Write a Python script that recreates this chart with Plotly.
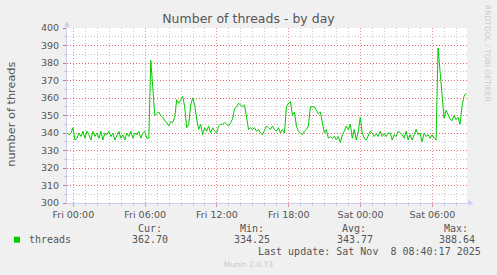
import plotly.graph_objects as go
from datetime import datetime, timedelta

# ---------------- data ----------------
series_name = "threads"
start_time = "2025-11-06 23:28:20"
step_minutes = 10
threads = [
    340, 339, 340, 343, 336, 337, 340, 338, 341, 337,
    341, 339, 336, 341, 338, 340, 337, 341, 336, 340,
    339, 341, 338, 340, 336, 339, 341, 337, 339, 336,
    340, 338, 341, 337, 340, 339, 341, 337, 340, 341,
    337, 337, 381.5, 366, 350, 351, 352, 350, 349, 347,
    346, 344, 346.5, 346, 349, 359, 357, 359, 361, 355,
    343, 345, 356, 360, 356, 348, 342, 345, 339, 343,
    341, 344, 340, 343, 341, 340, 344, 345, 345, 346,
    345, 344, 346, 348, 354, 355, 357, 356, 355, 356,
    350, 342, 343, 342, 343, 341, 342, 340, 339, 342,
    344, 343, 342, 344, 342, 341, 343, 340, 342, 340,
    355, 357, 358, 350, 352, 344, 341, 340, 339, 341,
    342, 344, 355, 355, 355, 353, 351, 352, 346, 340,
    342, 337, 338, 337, 338, 336, 338, 334.5, 339, 341,
    344, 342, 345, 337, 342, 336, 341, 349, 340, 337,
    336, 339, 341, 340, 338, 339.6, 338, 341, 338, 339.6,
    338, 340, 340, 336, 339, 338, 341, 340, 339, 337,
    341, 336, 339, 336, 339, 342, 339, 340, 335, 340,
    338, 339, 337, 339, 337, 336, 388.6, 375, 359, 348.5,
    353, 350.5, 348, 347, 350, 347.6, 349, 345, 355, 361,
    362.7,
]
title_text = "Number of threads - by day"
y_title = "number of threads"
y_min, y_max, y_step = 300, 400, 10
stat_labels = ["Cur:", "Min:", "Avg:", "Max:"]
stat_values = [362.70, 334.25, 343.77, 388.64]
last_update = "Last update: Sat Nov \u00a08 08:40:17 2025"
version_text = "Munin 2.0.73"
watermark = "RRDTOOL / TOBI OETIKER"

t0 = datetime.fromisoformat(start_time)
times = [t0 + timedelta(minutes=step_minutes * i) for i in range(len(threads))]
x_start = t0
x_end = t0 + timedelta(minutes=step_minutes * (len(threads) - 1))
y_major = list(range(y_min, y_max + 1, y_step))
y_minor = [v + y_step / 2 for v in y_major[:-1]]

# ---------------- geometry / styles ----------------
W, H = 497, 275
L, R, T, B = 67, 30, 28, 72
PW, PH = W - L - R, H - T - B
BOTTOM = H - B


def px(x):
    return (x - L) / PW


def py(y):
    return (BOTTOM - y) / PH


SANS = "DejaVu Sans"
MONO = "DejaVu Sans Mono"
TXT = "#555555"
MAJOR_X = "rgb(225,145,145)"
MAJOR_Y = "rgb(232,105,105)"
MINOR = "rgb(200,200,200)"
AXIS = "#C8CEF4"
GREEN = "#00CC00"
DOTS = "1px,2px"

fig = go.Figure()
fig.add_trace(go.Scatter(
    x=times, y=threads, mode="lines", name=series_name,
    line=dict(color=GREEN, width=1), hoverinfo="skip", showlegend=False,
))

fig.update_layout(
    width=W, height=H,
    margin=dict(l=L, r=R, t=T, b=B, pad=0),
    paper_bgcolor="#F0F0F0",
    plot_bgcolor="#FFFFFF",
    showlegend=False,
    font=dict(family=SANS, size=9.5, color=TXT),
    title=dict(text=title_text, x=0.5, xref="container", xanchor="center",
               y=1 - 19 / H, yref="container", yanchor="middle",
               font=dict(family=SANS, size=12.5, color=TXT)),
    xaxis=dict(
        range=[x_start, x_end + timedelta(minutes=5)],
        type="date",
        tick0="2025-11-07 00:00", dtick=6 * 3600 * 1000,
        tickformat="%a %H:%M",
        showgrid=True, gridcolor=MAJOR_X, griddash=DOTS, gridwidth=1,
        ticks="outside", ticklen=3, tickcolor=MAJOR_X, tickwidth=1,
        minor=dict(dtick=3600 * 1000, showgrid=True, gridcolor=MINOR,
                   griddash=DOTS, gridwidth=1, ticks="outside",
                   ticklen=2, tickcolor=MINOR),
        showline=True, linecolor=AXIS, linewidth=1,
        zeroline=False, fixedrange=True,
        tickfont=dict(family=SANS, size=9.5, color=TXT),
    ),
    yaxis=dict(
        range=[y_min, y_max],
        tickmode="array", tickvals=y_major,
        showgrid=True, gridcolor=MAJOR_Y, griddash=DOTS, gridwidth=1,
        ticks="outside", ticklen=3, tickcolor=MAJOR_Y, tickwidth=1,
        minor=dict(tickmode="array", tickvals=y_minor, showgrid=True,
                   gridcolor=MINOR, griddash=DOTS, gridwidth=1,
                   ticks="outside", ticklen=2, tickcolor=MINOR),
        showline=True, linecolor=AXIS, linewidth=1,
        zeroline=False, fixedrange=True,
        tickfont=dict(family=SANS, size=9.5, color=TXT),
        ticklabelstandoff=2,
    ),
)

ann = []
ann.append(dict(text=y_title, x=px(11.5), y=py(114.2), xref="paper", yref="paper",
                xanchor="center", yanchor="middle", textangle=-90, showarrow=False,
                font=dict(family=SANS, size=11.3, color=TXT)))
ann.append(dict(text=series_name, x=px(26.5), y=py(239.3), xref="paper", yref="paper",
                xanchor="left", yanchor="middle", showarrow=False,
                font=dict(family=MONO, size=10, color=TXT)))
for k, (lab, val) in enumerate(zip(stat_labels, stat_values)):
    ann.append(dict(text=lab, x=px(163.5 + 102.3 * k), y=py(228.3), xref="paper",
                    yref="paper", xanchor="right", yanchor="middle", showarrow=False,
                    font=dict(family=MONO, size=10, color=TXT)))
    ann.append(dict(text=f"{val:.2f}", x=px(170 + 102.3 * k), y=py(239.3), xref="paper",
                    yref="paper", xanchor="right", yanchor="middle", showarrow=False,
                    font=dict(family=MONO, size=10, color=TXT)))
ann.append(dict(text=last_update, x=px(482.7), y=py(251), xref="paper", yref="paper",
                xanchor="right", yanchor="middle", showarrow=False,
                font=dict(family=MONO, size=10, color=TXT)))
ann.append(dict(text=version_text, x=px(248), y=py(264.3), xref="paper", yref="paper",
                xanchor="center", yanchor="middle", showarrow=False,
                font=dict(family=SANS, size=7.5, color="#C8C8C8")))
ann.append(dict(text=watermark, x=px(487.5), y=py(53.5), xref="paper", yref="paper",
                xanchor="center", yanchor="middle", textangle=90, showarrow=False,
                font=dict(family=SANS, size=7.5, color="#CCCCCC")))
fig.update_layout(annotations=ann)

shapes = []
# legend colour swatch
shapes.append(dict(type="rect", xref="paper", yref="paper",
                   x0=px(14), x1=px(20), y0=py(242.7), y1=py(236.7),
                   fillcolor=GREEN, line=dict(width=0)))
# axis arrow heads and short extensions
shapes.append(dict(type="line", xref="paper", yref="paper", x0=0, x1=0,
                   y0=1, y1=py(25), line=dict(color=AXIS, width=1)))
shapes.append(dict(type="path", xref="paper", yref="paper",
                   path=f"M {px(67)} {py(21.5)} L {px(64)} {py(26.5)} L {px(70)} {py(26.5)} Z",
                   fillcolor=AXIS, line=dict(width=0)))
shapes.append(dict(type="line", xref="paper", yref="paper", x0=1, x1=px(470),
                   y0=0, y1=0, line=dict(color=AXIS, width=1)))
shapes.append(dict(type="path", xref="paper", yref="paper",
                   path=f"M {px(473.5)} {py(203)} L {px(468.5)} {py(200)} L {px(468.5)} {py(206)} Z",
                   fillcolor=AXIS, line=dict(width=0)))
fig.update_layout(shapes=shapes)

fig.write_html("out.html", config={"displayModeBar": False})
